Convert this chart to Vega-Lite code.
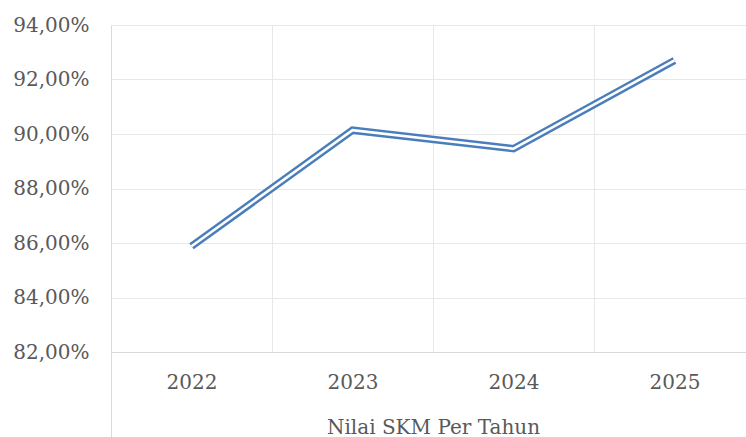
{
  "$schema": "https://vega.github.io/schema/vega-lite/v6.json",
  "autosize": "none",
  "width": 644,
  "height": 327,
  "padding": {"left": 111, "top": 25, "right": 0, "bottom": 85},
  "background": "white",
  "config": {
    "view": {"stroke": null},
    "font": "DejaVu Serif"
  },
  "data": {
    "values": [
      {"tahun": "2022", "nilai": 85.88},
      {"tahun": "2023", "nilai": 90.14},
      {"tahun": "2024", "nilai": 89.46},
      {"tahun": "2025", "nilai": 92.70}
    ]
  },
  "encoding": {
    "x": {
      "field": "tahun",
      "type": "ordinal",
      "bandPosition": 0.5,
      "scale": {"type": "band", "paddingInner": 0, "paddingOuter": 0},
      "axis": {
        "title": "Nilai SKM Per Tahun",
        "titleFont": "DejaVu Serif",
        "titleFontSize": 20,
        "titleFontWeight": "normal",
        "titleColor": "#595959",
        "titleBaseline": "alphabetic",
        "titleY": 81,
        "titleAnchor": "middle",
        "labelAngle": 0,
        "labelFont": "DejaVu Serif",
        "labelFontSize": 20,
        "labelColor": "#595959",
        "labelPadding": -65,
        "ticks": true,
        "tickBand": "extent",
        "tickSize": 85,
        "tickWidth": 1,
        "tickColor": {"condition": {"test": "isValid(datum.extra)", "value": "#D9D9D9"}, "value": "transparent"},
        "domain": true,
        "domainColor": "#D9D9D9",
        "grid": true,
        "gridColor": "#E8E8E8",
        "gridWidth": 1
      }
    },
    "y": {
      "field": "nilai",
      "type": "quantitative",
      "scale": {"domain": [82, 94], "nice": false, "zero": false},
      "axis": {
        "title": null,
        "values": [82, 84, 86, 88, 90, 92, 94],
        "labelExpr": "replace(format(datum.value, '.2f'), '.', ',') + '%'",
        "labelFont": "DejaVu Serif",
        "labelFontSize": 20,
        "labelColor": "#595959",
        "labelPadding": 22,
        "ticks": false,
        "domain": true,
        "domainColor": "#D9D9D9",
        "grid": true,
        "gridColor": "#E8E8E8",
        "gridWidth": 1
      }
    }
  },
  "layer": [
    {"mark": {"type": "line", "color": "#4A7EBB", "strokeWidth": 7.5, "strokeCap": "butt", "strokeJoin": "miter"}},
    {"mark": {"type": "line", "color": "white", "strokeWidth": 2.6, "strokeCap": "butt", "strokeJoin": "miter"}}
  ]
}
